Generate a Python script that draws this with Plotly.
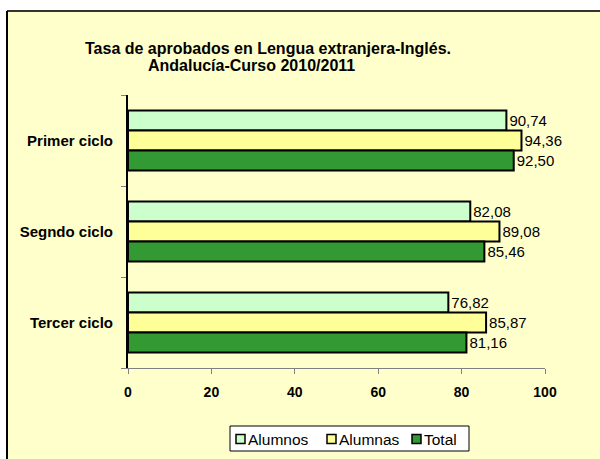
import plotly.graph_objects as go

categories = ["Primer ciclo", "Segndo ciclo", "Tercer ciclo"]
alumnos = [90.74, 82.08, 76.82]
alumnas = [94.36, 89.08, 85.87]
total = [92.50, 85.46, 81.16]
series_names = ["Alumnos", "Alumnas", "Total"]
x_ticks = [0, 20, 40, 60, 80, 100]

colors = ["#CCFFCC", "#FFFF99", "#339933"]
FONT = "Liberation Sans, Arial, sans-serif"
W, H = 600, 459
L, R, T, B = 128, 55, 95, 91
pw, ph = W - L - R, H - T - B

def fmt(v):
    return f"{v:.2f}".replace(".", ",")

def px_x(p):
    return (p - L) / pw

def px_y(p):
    return (H - B - p) / ph

fig = go.Figure()
for name, vals, col in zip(series_names, [alumnos, alumnas, total], colors):
    fig.add_trace(go.Bar(
        y=categories, x=vals, name=name, orientation="h",
        marker=dict(color=col, line=dict(color="black", width=2)),
        text=[fmt(v) for v in vals], textposition="outside",
        textfont=dict(family=FONT, size=15, color="black"),
        cliponaxis=False, showlegend=False,
    ))

# white strips outside the chart area (top and left) and the frame lines
fig.add_shape(type="rect", xref="paper", yref="paper",
              x0=px_x(-20), x1=px_x(620), y0=px_y(11), y1=px_y(-20),
              fillcolor="white", line=dict(width=0), layer="below")
fig.add_shape(type="rect", xref="paper", yref="paper",
              x0=px_x(-20), x1=px_x(7), y0=px_y(480), y1=px_y(-20),
              fillcolor="white", line=dict(width=0), layer="below")
fig.add_shape(type="line", xref="paper", yref="paper",
              x0=px_x(7), x1=px_x(620), y0=px_y(11), y1=px_y(11),
              line=dict(color="#333333", width=2))
fig.add_shape(type="line", xref="paper", yref="paper",
              x0=px_x(7), x1=px_x(7), y0=px_y(11), y1=px_y(480),
              line=dict(color="black", width=2))

# title
fig.add_annotation(text="<b>Tasa de aprobados en Lengua extranjera-Inglés.</b>",
                   xref="paper", yref="paper", x=px_x(268), y=px_y(49),
                   showarrow=False, xanchor="center", yanchor="middle",
                   font=dict(family=FONT, size=16, color="black"))
fig.add_annotation(text="<b>Andalucía-Curso 2010/2011</b>",
                   xref="paper", yref="paper", x=px_x(251), y=px_y(66),
                   showarrow=False, xanchor="center", yanchor="middle",
                   font=dict(family=FONT, size=16, color="black"))

# legend (custom, compact like the original)
fig.add_shape(type="rect", xref="paper", yref="paper",
              x0=px_x(230), x1=px_x(469), y0=px_y(451), y1=px_y(426),
              fillcolor="white", line=dict(color="black", width=1))
sq_x = [236, 327, 412]
for name, col, sx in zip(series_names, colors, sq_x):
    fig.add_shape(type="rect", xref="paper", yref="paper",
                  x0=px_x(sx), x1=px_x(sx + 9), y0=px_y(443.5), y1=px_y(434.5),
                  fillcolor=col, line=dict(color="black", width=1.5))
    fig.add_annotation(text=name, xref="paper", yref="paper",
                       x=px_x(sx + 10), y=px_y(439), showarrow=False,
                       xanchor="left", yanchor="middle",
                       font=dict(family=FONT, size=15.5, color="black"))

fig.update_layout(
    width=W, height=H,
    margin=dict(l=L, r=R, t=T, b=B),
    paper_bgcolor="#FFFFCC", plot_bgcolor="rgba(0,0,0,0)",
    barmode="group", bargap=0.34, bargroupgap=0,
    showlegend=False,
    font=dict(family=FONT, color="black"),
)
fig.update_xaxes(range=[0, 100], tickvals=x_ticks, ticktext=[f"<b>{v}</b>" for v in x_ticks],
                 showgrid=False, zeroline=False, showline=True, linecolor="#808080", linewidth=1,
                 ticks="outside", ticklen=5, tickcolor="#808080", ticklabelstandoff=6,
                 tickfont=dict(size=14, family=FONT, color="black"))
fig.update_yaxes(autorange="reversed", showgrid=False, showline=True, linecolor="black", linewidth=2,
                 ticks="outside", ticklen=5, tickcolor="#808080", tickson="boundaries",
                 ticklabelstandoff=10,
                 tickvals=categories, ticktext=[f"<b>{c}</b>" for c in categories],
                 tickfont=dict(size=15, family=FONT, color="black"))

fig.write_html("out.html", config={"displayModeBar": False},
               post_script=("document.body.style.margin='0';"
                            "document.body.style.overflow='hidden';"
                            "document.documentElement.style.overflow='hidden';"
                            "document.body.style.background='#FFFFCC';"))
